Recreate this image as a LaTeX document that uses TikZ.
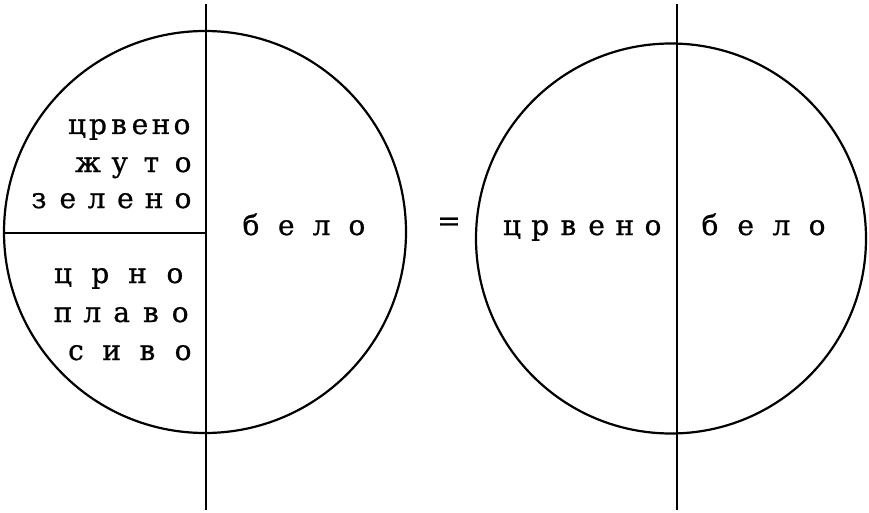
\documentclass[tikz,border=0pt]{standalone}
\usepackage{fontspec}
\newfontfamily\typefont[FakeBold=0.8]{DejaVu Serif}
\usetikzlibrary{positioning}

% one letter per node, spaced at a fixed pitch
\newcommand{\spword}[5]{%
	\foreach \ch [count=\k from 0] in {#5}
		\node[letter] (#1-\k) at ({#2+\k*#4},#3) {\ch};}

\begin{document}
\begin{tikzpicture}[x=1pt,y=-1pt,
			letter/.style={
				inner sep=0pt,
				anchor=base,
				font=\typefont\fontsize{28}{33}\selectfont
			},
			rim/.style={line width=2.2pt},
			axis/.style={line width=2.8pt}]
			
			\useasboundingbox (0,0) rectangle (869,513);
			
			% left disc
			\draw[rim] (205,232) circle[radius=201];
			
			\coordinate (ltop) at (206,4);
			\coordinate (lbot) at (206,510);
			\coordinate (lwest) at (4,233);
			\coordinate (lmid) at (206,233);
			
			\draw[axis] (ltop)--(lbot);
			
			\draw[axis] (lwest)--(lmid);
			
			\spword{crvenoL}{77}{134}{21}{ц,р,в,е,н,о}
			
			\spword{zuto}{88}{172}{31.7}{ж,у,т,о}
			
			\spword{zeleno}{39}{208}{28.8}{з,е,л,е,н,о}
			
			\spword{beloL}{251}{235}{35.3}{б,е,л,о}
			
			\spword{crno}{63}{283}{37.3}{ц,р,н,о}
			
			\spword{plavo}{63}{322}{29.3}{п,л,а,в,о}
			
			\spword{sivo}{76}{360}{35.7}{с,и,в,о}
			
			\node[letter,anchor=center] (equals) at (449,224) {=};
			
			% right disc
			\draw[rim] (671,238.5) circle[radius=195];
			
			\coordinate (rtop) at (677,4);
			\coordinate (rbot) at (677,510);
			
			\draw[axis] (rtop)--(rbot);
			
			\spword{crvenoR}{512}{235}{28.2}{ц,р,в,е,н,о}
			
			\spword{beloR}{710}{235}{35.7}{б,е,л,о}
			
		\end{tikzpicture}
\end{document}
